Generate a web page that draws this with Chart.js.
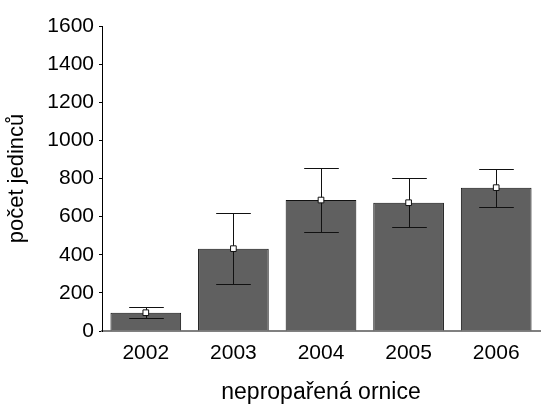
<!DOCTYPE html>
<html>
<head>
<meta charset="utf-8">
<script src="https://cdn.jsdelivr.net/npm/chart.js@4"></script>
<style>
  html, body { margin: 0; padding: 0; background: #fff; }
  #wrap { width: 545px; height: 406px; }
</style>
</head>
<body>
<div id="wrap"><canvas id="chart"></canvas></div>
<script>
const years = ["2002", "2003", "2004", "2005", "2006"];
const means = [96, 432, 687, 673, 752];
const errLow = [66, 245, 519, 544, 652];
const errHigh = [124, 621, 855, 801, 850];

const FONT = "Arial, 'Liberation Sans', sans-serif";

// whiskers drawn right after the bars, so the mean markers sit on top
const errorBars = {
    id: "errorBars",
    afterDatasetDraw(chart, args) {
        if (args.index !== 0) return;
        const ctx = chart.ctx;
        const y = chart.scales.y;
        const bars = args.meta.data;
        ctx.save();
        ctx.strokeStyle = "#111";
        ctx.lineWidth = 1;
        bars.forEach((bar, i) => {
            const x = Math.round(bar.x) + 0.5;
            const half = bar.width * 0.245;
            const yHi = Math.round(y.getPixelForValue(errHigh[i])) + 0.5;
            const yLo = Math.round(y.getPixelForValue(errLow[i])) + 0.5;
            ctx.beginPath();
            ctx.moveTo(x, yHi);
            ctx.lineTo(x, yLo);
            ctx.moveTo(x - half, yHi);
            ctx.lineTo(x + half, yHi);
            ctx.moveTo(x - half, yLo);
            ctx.lineTo(x + half, yLo);
            ctx.stroke();
        });
        ctx.restore();
    },
};

new Chart(document.getElementById("chart"), {
    type: "bar",
    data: {
        labels: years,
        datasets: [
            {
                data: means,
                backgroundColor: "#606060",
                borderColor: "#111",
                borderWidth: 1,
                categoryPercentage: 1,
                barPercentage: 0.807,
                order: 2,
            },
            {
                type: "line",
                data: means,
                showLine: false,
                pointStyle: "rect",
                pointRadius: 4,
                pointBackgroundColor: "#fff",
                pointBorderColor: "#111",
                pointBorderWidth: 1,
                order: 1,
            },
        ],
    },
    options: {
        responsive: true,
        maintainAspectRatio: false,
        animation: false,
        layout: { padding: { top: 26, right: 0, left: 0, bottom: 0 } },
        plugins: {
            legend: { display: false },
            tooltip: { enabled: false },
        },
        scales: {
            x: {
                offset: true,
                grid: { display: false, drawTicks: false },
                border: { color: "#808080", width: 2 },
                ticks: {
                    color: "#000",
                    font: { family: FONT, size: 21 },
                    padding: 10,
                    maxRotation: 0,
                },
                title: {
                    display: true,
                    text: "nepropařená ornice",
                    color: "#000",
                    font: { family: FONT, size: 23 },
                    padding: { top: 0, bottom: 0 },
                },
                afterFit: (scale) => { scale.height = 75; },
            },
            y: {
                min: 0,
                max: 1600,
                ticks: {
                    stepSize: 200,
                    color: "#000",
                    font: { family: FONT, size: 21 },
                    padding: 5,
                    callback: (v) => String(v),
                },
                grid: { drawOnChartArea: false, tickLength: 3, color: "#000" },
                border: { color: "#000", width: 1 },
                title: {
                    display: true,
                    text: "počet jedinců",
                    color: "#000",
                    font: { family: FONT, size: 22 },
                    padding: { top: 4, bottom: 0 },
                },
                afterFit: (scale) => { scale.width = 102; },
            },
        },
    },
    plugins: [errorBars],
});
</script>
</body>
</html>
